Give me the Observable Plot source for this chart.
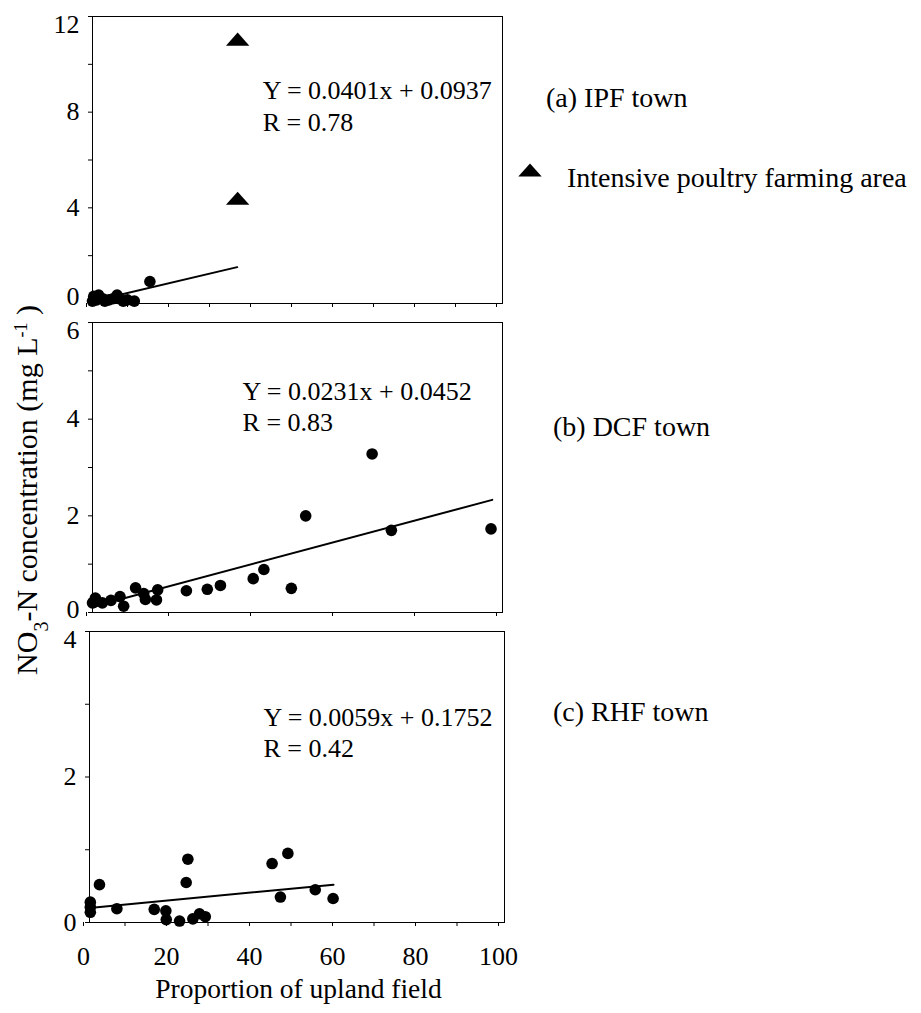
<!DOCTYPE html>
<html>
<head>
<meta charset="utf-8">
<script src="https://cdn.jsdelivr.net/npm/d3@7"></script>
<script src="https://cdn.jsdelivr.net/npm/@observablehq/plot@0.6"></script>
<style>
  html, body { margin: 0; padding: 0; background: #fff; }
  #wrap { position: relative; width: 921px; height: 1013px; overflow: hidden; background: #fff; }
  #wrap > svg { position: absolute; left: 0; }
</style>
</head>
<body>
<div id="wrap"></div>
<script>
// ---------- data ----------
// (a) IPF town
const ipfX = [0, 0.3, 1, 1.5, 2.5, 3, 4, 5, 6, 6.5, 7.5, 8.5, 10.2, 14];
const ipfY = [0.1, 0.3, 0.15, 0.35, 0.2, 0.1, 0.15, 0.2, 0.35, 0.2, 0.1, 0.15, 0.1, 0.92];
const ipfTriX = [35.4, 35.4];
const ipfTriY = [11.05, 4.4];
const ipfFitX = [0, 35.3];
const ipfFitY = [0.09, 1.52];
const ipfEq = ["Y = 0.0401x + 0.0937", "R = 0.78"];

// (b) DCF town
const dcfX = [0, 0.3, 0.7, 2.4, 4.5, 6.7, 7.6, 10.5, 12.5, 12.9, 15.6, 15.9, 22.9, 28, 31.2, 39.2, 41.8, 48.5, 52, 68.2, 72.9, 97.2];
const dcfY = [0.2, 0.21, 0.3, 0.2, 0.25, 0.33, 0.13, 0.51, 0.39, 0.27, 0.26, 0.47, 0.45, 0.48, 0.56, 0.7, 0.89, 0.5, 2.0, 3.28, 1.7, 1.73];
const dcfFitX = [0, 97.5];
const dcfFitY = [0.12, 2.33];
const dcfEq = ["Y = 0.0231x + 0.0452", "R = 0.83"];

// (c) RHF town
const rhfX = [0.2, 0.2, 0.2, 2.4, 6.6, 15.6, 18.4, 18.5, 21.7, 23.3, 23.7, 24.9, 26.5, 27.9, 44.0, 46.0, 47.8, 54.4, 58.7];
const rhfY = [0.28, 0.21, 0.14, 0.52, 0.19, 0.18, 0.16, 0.04, 0.02, 0.55, 0.87, 0.05, 0.12, 0.08, 0.81, 0.35, 0.95, 0.45, 0.33];
const rhfFitX = [0, 58.8];
const rhfFitY = [0.2, 0.52];
const rhfEq = ["Y = 0.0059x + 0.1752", "R = 0.42"];

const xTicks10 = d3.range(0, 101, 10);
const xTicks20 = d3.range(0, 101, 20);
const yTicksA = d3.range(0, 13, 2);
const yTicksB = d3.range(0, 7, 1);
const yTicksC = d3.range(0, 5, 1);
const yLabelsA = [0, 4, 8, 12];
const yLabelsB = [0, 2, 4, 6];
const yLabelsC = [0, 2, 4];

const panelLabels = ["(a) IPF town", "(b) DCF town", "(c) RHF town"];
const legendLabel = "Intensive poultry farming area";
const xLabel = "Proportion of upland field";

// ---------- helpers ----------
const FONT = "'Liberation Serif', 'Times New Roman', serif";
const pts = (xs, ys) => xs.map((x, i) => ({x, y: ys[i]}));

// flattened triangle marker (wider than tall, like the original)
const flatTriangle = {
  draw(context, size) {
    const r = Math.sqrt(size / Math.PI);
    const w = 1.95 * r, h = 1.1 * r;
    context.moveTo(0, -h);
    context.lineTo(w, h);
    context.lineTo(-w, h);
    context.closePath();
  }
};

function panel({top, height, mt, mb, ml, mr, yDomain, yTicks, yLabels, bottomDy, xTicks, xLabels, dots, tris, fit, eq, eqX, eqY}) {
  const yMax = yDomain[1];
  const lab = {tickSize: 0, tickPadding: 13, fontSize: 26, tickFormat: d => String(d)};
  const marks = [
    // tick marks only
    Plot.axisY({ticks: yTicks, tickSize: 4, tickFormat: () => ""}),
    // tick labels: top label kept inside the frame, bottom "0" nudged, others centred
    Plot.axisY({...lab, ticks: yLabels.filter(d => d !== 0 && d !== yMax)}),
    Plot.axisY({...lab, ticks: [yMax], dy: 8}),
    Plot.axisY({...lab, ticks: [0], dy: bottomDy}),
    Plot.axisX({ticks: xTicks, tickSize: 4, tickPadding: 20, fontSize: 26, dx: -6, label: null,
      tickFormat: d => (xLabels && d % 20 === 0 ? String(d) : "")}),
    Plot.frame({stroke: "#000", strokeWidth: 1}),
    Plot.line(fit, {x: "x", y: "y", stroke: "#000", strokeWidth: 2}),
    Plot.dot(dots, {x: "x", y: "y", r: 5.8, fill: "#000", stroke: "none"}),
    Plot.text([eq.join("\n")], {x: eqX, y: eqY, text: d => d, textAnchor: "start", lineAnchor: "bottom",
      lineHeight: 1.2, fontSize: 26, fill: "#000"})
  ];
  if (tris) marks.push(Plot.dot(tris, {x: "x", y: "y", r: 6, symbol: flatTriangle, fill: "#000", stroke: "none"}));
  const svg = Plot.plot({
    width: 921, height,
    marginTop: mt, marginBottom: mb, marginLeft: ml, marginRight: mr,
    x: {domain: [0, 100], label: null},
    y: {domain: yDomain, label: null},
    style: {fontFamily: FONT, fontSize: "26px", color: "#000", background: "none", overflow: "visible"},
    marks
  });
  svg.style.top = top + "px";
  return svg;
}

const wrap = document.getElementById("wrap");

wrap.appendChild(panel({
  top: 0, height: 320, mt: 16, mb: 17, ml: 92, mr: 419,
  yDomain: [0, 12], yTicks: yTicksA, yLabels: yLabelsA, bottomDy: -7, xTicks: xTicks10, xLabels: false,
  dots: pts(ipfX, ipfY), tris: pts(ipfTriX, ipfTriY), fit: pts(ipfFitX, ipfFitY),
  eq: ipfEq, eqX: 41.5, eqY: 7.23
}));

wrap.appendChild(panel({
  top: 305, height: 320, mt: 17, mb: 13, ml: 92, mr: 419,
  yDomain: [0, 6], yTicks: yTicksB, yLabels: yLabelsB, bottomDy: -3, xTicks: xTicks20, xLabels: false,
  dots: pts(dcfX, dcfY), tris: null, fit: pts(dcfFitX, dcfFitY),
  eq: dcfEq, eqX: 36.6, eqY: 3.745
}));

wrap.appendChild(panel({
  top: 615, height: 398, mt: 16, mb: 91, ml: 89, mr: 417,
  yDomain: [0, 4], yTicks: yTicksC, yLabels: yLabelsC, bottomDy: 0, xTicks: xTicks10, xLabels: true,
  dots: pts(rhfX, rhfY), tris: null, fit: pts(rhfFitX, rhfFitY),
  eq: rhfEq, eqX: 41.9, eqY: 2.27
}));

// ---------- outside labels, legend ----------
const ov = d3.select(wrap).append("svg")
  .attr("width", 921).attr("height", 1013)
  .style("top", "0px").style("pointer-events", "none")
  .attr("font-family", FONT).attr("fill", "#000");

const right = [
  {t: panelLabels[0], x: 546, y: 107},
  {t: panelLabels[1], x: 553, y: 436},
  {t: panelLabels[2], x: 553, y: 721},
  {t: legendLabel, x: 567, y: 187}
];
ov.selectAll("text.r").data(right).join("text")
  .attr("class", "r").attr("x", d => d.x).attr("y", d => d.y)
  .attr("font-size", 28).text(d => d.t);

ov.append("path")
  .attr("transform", "translate(530,170)")
  .attr("d", d3.symbol(flatTriangle, Math.PI * 36)())
  .attr("fill", "#000");

ov.append("text")
  .attr("x", 298.5).attr("y", 998).attr("text-anchor", "middle")
  .attr("font-size", 27.5).text(xLabel);

const yl = ov.append("text")
  .attr("transform", "translate(37,490) rotate(-90)")
  .attr("text-anchor", "middle").attr("font-size", 30);
yl.append("tspan").text("NO");
yl.append("tspan").attr("baseline-shift", "sub").attr("font-size", 20).text("3");
yl.append("tspan").text("-N concentration (mg L");
yl.append("tspan").attr("baseline-shift", "super").attr("font-size", 18).text("-1");
yl.append("tspan").text(" )");
</script>
</body>
</html>
